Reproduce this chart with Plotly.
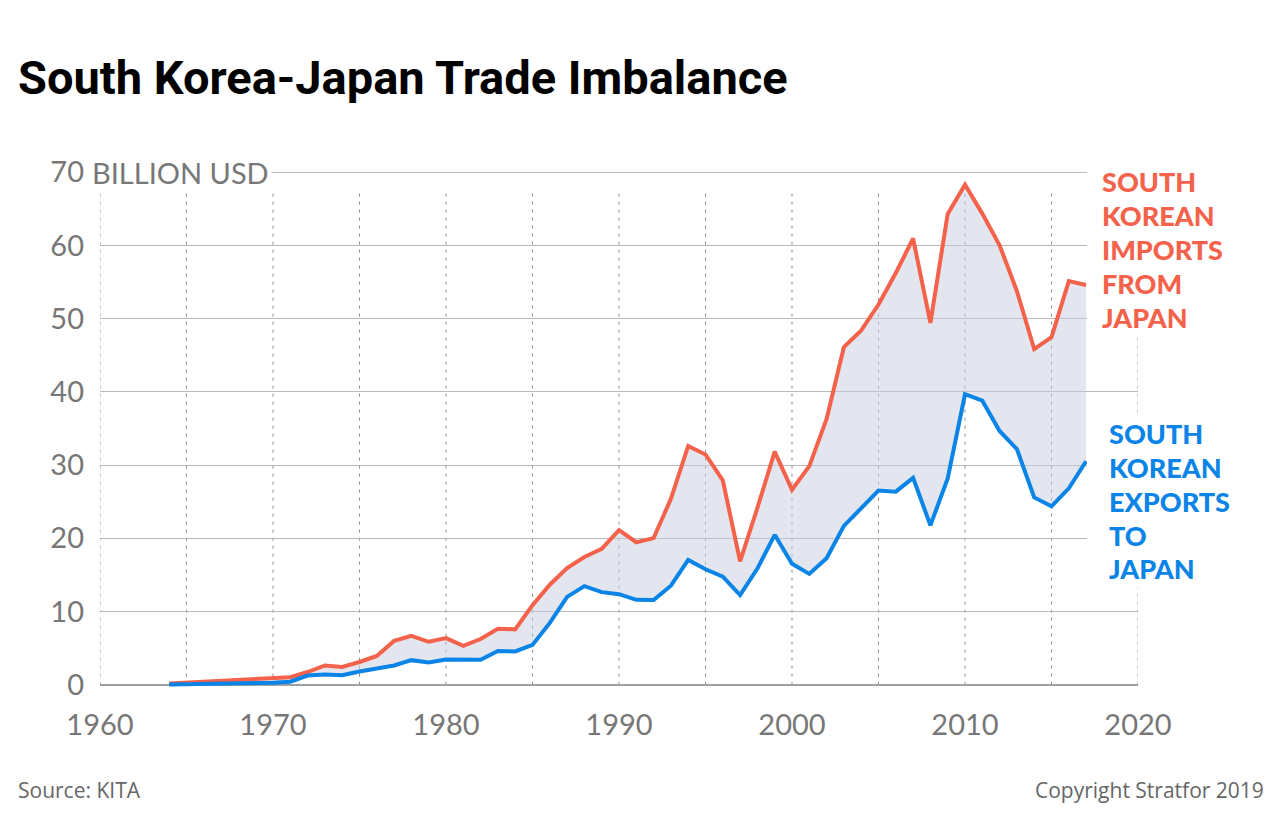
import plotly.graph_objects as go

# ---- data (billion USD), as plotted ----
years = list(range(1964, 2018))
imports_from_japan = [
    0.17, 0.29, 0.44, 0.62, 0.75, 0.81, 0.95, 1.03, 1.73, 2.62,
    2.43, 3.10, 3.93, 5.98, 6.66, 5.86, 6.37, 5.31, 6.24, 7.64,
    7.56, 10.87, 13.66, 15.93, 17.45, 18.57, 21.12, 19.46, 20.02, 25.39,
    32.61, 31.45, 27.91, 16.84, 24.14, 31.83, 26.63, 29.86, 36.31, 46.14,
    48.40, 51.93, 56.25, 60.96, 49.43, 64.30, 68.32, 64.36, 60.03, 53.77,
    45.85, 47.47, 55.13, 54.60,
]
exports_to_japan = [
    0.04, 0.07, 0.09, 0.10, 0.13, 0.23, 0.26, 0.41, 1.24, 1.38,
    1.29, 1.80, 2.15, 2.63, 3.35, 3.04, 3.44, 3.39, 3.40, 4.60,
    4.54, 5.43, 8.44, 12.00, 13.46, 12.64, 12.36, 11.60, 11.56, 13.52,
    17.05, 15.77, 14.77, 12.24, 15.86, 20.47, 16.51, 15.14, 17.28, 21.70,
    24.03, 26.53, 26.37, 28.25, 21.77, 28.18, 39.68, 38.80, 34.66, 32.18,
    25.58, 24.36, 26.82, 30.53,
]
x_ticks = [1960, 1970, 1980, 1990, 2000, 2010, 2020]
y_ticks = [0, 10, 20, 30, 40, 50, 60, 70]
dotted_years = list(range(1960, 2021, 5))

RED = "#f4624b"
BLUE = "#0a84e6"
GRAY = "#777777"

W, H = 1280, 815
L, R = 100, 1138
TOP, BOT = 164.67, 692.33

def px(xp):
    return (xp - L) / (R - L)

def py(yp):
    return (BOT - yp) / (BOT - TOP)

fig = go.Figure()

# fill between the two series
fig.add_trace(go.Scatter(x=years, y=exports_to_japan, mode="lines",
                         line=dict(width=0), hoverinfo="skip", showlegend=False))
fig.add_trace(go.Scatter(x=years, y=imports_from_japan, mode="lines",
                         line=dict(width=0), fill="tonexty",
                         fillcolor="rgba(199,205,221,0.5)",
                         hoverinfo="skip", showlegend=False))
# lines
fig.add_trace(go.Scatter(x=years, y=imports_from_japan, mode="lines",
                         line=dict(color=RED, width=4), showlegend=False))
fig.add_trace(go.Scatter(x=years, y=exports_to_japan, mode="lines",
                         line=dict(color=BLUE, width=4), showlegend=False))

shapes = []
for yr in dotted_years:
    shapes.append(dict(type="line", xref="x", yref="y", x0=yr, x1=yr, y0=0, y1=67.5,
                       line=dict(color="#8f8f8f", width=1, dash="3px,5px"),
                       layer="below"))
# white boxes behind right-hand labels
shapes.append(dict(type="rect", xref="paper", yref="paper",
                   x0=px(1087), x1=px(1260), y0=py(333), y1=py(162),
                   fillcolor="white", line=dict(width=0), layer="above"))
shapes.append(dict(type="rect", xref="paper", yref="paper",
                   x0=px(1087), x1=px(1260), y0=py(588), y1=py(416),
                   fillcolor="white", line=dict(width=0), layer="above"))

annotations = []
# title
annotations.append(dict(text="<b>South Korea-Japan Trade Imbalance</b>",
                        xref="paper", yref="paper", x=px(16), y=py(77),
                        xanchor="left", yanchor="middle", showarrow=False,
                        font=dict(family="Liberation Sans Narrow, Roboto, sans-serif",
                                  size=47, color="#000000")))
# y unit label
annotations.append(dict(text="BILLION USD", xref="paper", yref="paper",
                        x=px(89), y=py(172), xanchor="left", yanchor="middle",
                        showarrow=False, bgcolor="white", borderpad=2,
                        font=dict(family="Lato, sans-serif", size=29, color=GRAY)))
red_lines = ["SOUTH", "KOREAN", "IMPORTS", "FROM", "JAPAN"]
red_y = [181, 215, 249, 283, 317]
for t, yy in zip(red_lines, red_y):
    annotations.append(dict(text=t, xref="paper", yref="paper",
                            x=px(1100), y=py(yy), xanchor="left", yanchor="middle",
                            showarrow=False,
                            font=dict(family="Lato, sans-serif", size=27, color=RED,
                                      weight=900)))
blue_lines = ["SOUTH", "KOREAN", "EXPORTS", "TO", "JAPAN"]
blue_y = [434, 468, 502, 536, 569]
for t, yy in zip(blue_lines, blue_y):
    annotations.append(dict(text=t, xref="paper", yref="paper",
                            x=px(1107), y=py(yy), xanchor="left", yanchor="middle",
                            showarrow=False,
                            font=dict(family="Lato, sans-serif", size=27, color=BLUE,
                                      weight=900)))
annotations.append(dict(text="Source: KITA", xref="paper", yref="paper",
                        x=px(16), y=py(790), xanchor="left", yanchor="middle",
                        showarrow=False,
                        font=dict(family="Open Sans, sans-serif", size=21, color="#666666")))
annotations.append(dict(text="Copyright Stratfor 2019", xref="paper", yref="paper",
                        x=px(1266), y=py(790), xanchor="right", yanchor="middle",
                        showarrow=False,
                        font=dict(family="Open Sans, sans-serif", size=21, color="#666666")))

fig.update_layout(
    width=W, height=H,
    margin=dict(l=L, r=W - R, t=TOP, b=H - BOT, pad=0),
    paper_bgcolor="white", plot_bgcolor="white",
    showlegend=False,
    shapes=shapes, annotations=annotations,
    xaxis=dict(range=[1960, 2020], tickvals=x_ticks, ticktext=[str(v) for v in x_ticks],
               showgrid=False, zeroline=False, showline=False, ticks="",
               ticklabelstandoff=13,
               tickfont=dict(family="Lato, sans-serif", size=29, color=GRAY)),
    yaxis=dict(range=[-1, 71], tickvals=y_ticks, ticktext=[str(v) for v in y_ticks],
               showgrid=True, gridcolor="#b8b8b8", gridwidth=1,
               zeroline=True, zerolinecolor="#a0a0a0", zerolinewidth=2,
               showline=False, ticks="", ticklabelstandoff=15,
               tickfont=dict(family="Lato, sans-serif", size=29, color=GRAY)),
)

fig.write_html("out.html")
